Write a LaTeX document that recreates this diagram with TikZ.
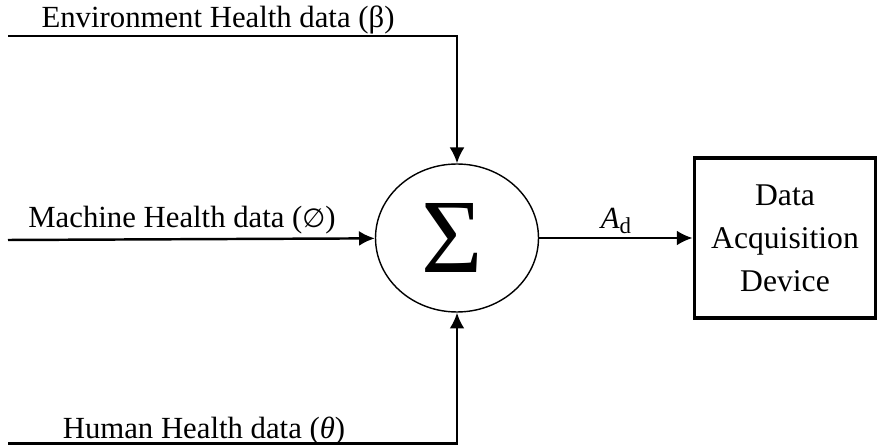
\documentclass[tikz,border=0pt]{standalone}
\usepackage{fontspec}
\setmainfont{Liberation Serif}
\newfontfamily\symfam{DejaVu Sans}
\usepackage{tikz}
\usetikzlibrary{arrows.meta,shapes.geometric}

\begin{document}
\begin{tikzpicture}[
    x=0.02cm, y=0.02cm,
    >={Latex[length=9pt,width=8.5pt]},
    line width=1.4pt,
    every node/.style={font=\rmfamily\fontsize{17.5}{24.5}\selectfont},
    sumnode/.style={ellipse, draw, line width=0.8pt, minimum width=3.26cm, minimum height=2.96cm, inner sep=0pt},
    devbox/.style={rectangle, draw, line width=2.2pt, minimum width=3.62cm, minimum height=3.2cm, align=center,
      font=\rmfamily\fontsize{18}{24.5}\selectfont},
    lbl/.style={anchor=base}
  ]
    \useasboundingbox (0,0) rectangle (878,446);
    \node[sumnode] (sum) at (457,208) {\fontsize{60}{60}\selectfont Σ\kern6pt};
    \node[devbox] (dev) at (785,208) {Data\\Acquisition\\Device};
    \coordinate (envin) at (8,410);
    \coordinate (machin) at (8,206);
    \coordinate (humin) at (8,2.5);
    \node[lbl] (envlbl) at (218,418) {Environment Health data (β)};
    \node[lbl] (machlbl) at (182,218) {Machine Health data ({\symfam\fontsize{15}{15}\selectfont ∅})};
    \node[lbl] (humlbl) at (204,8) {Human Health data ({\itshape θ})};
    \draw[->] (envin) -| (sum);
    \draw[->] (machin) -- (sum);
    \draw[->] (humin) -| (sum);
    \draw[->] (sum) -- node[above, inner sep=2pt, pos=0.5] (ad) {{\itshape A}\raisebox{-0.35ex}{\fontsize{13}{13}\selectfont d}} (dev);
  \end{tikzpicture}
\end{document}
